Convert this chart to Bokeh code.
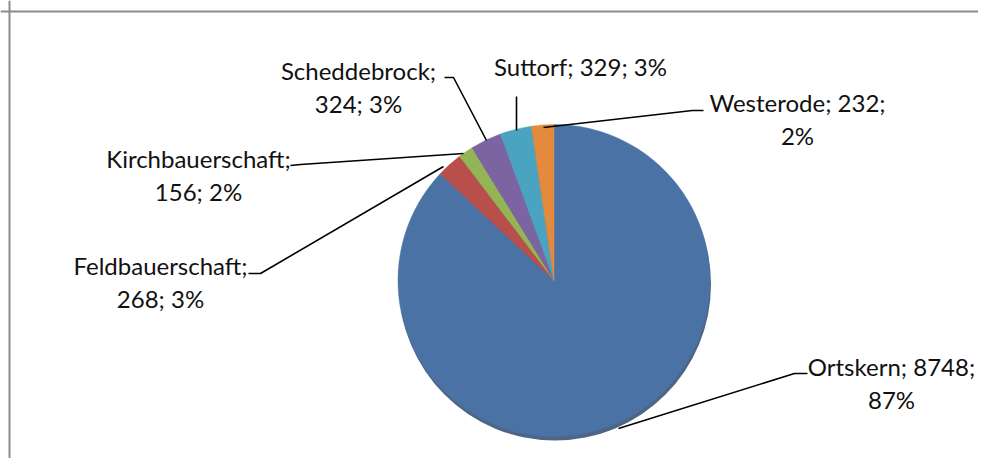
import numpy as np
from bokeh.plotting import figure
from bokeh.models import Range1d, Span, ColumnDataSource
from bokeh.core.properties import value
from bokeh.embed import file_html
from bokeh.resources import INLINE

# ---- data ----
categories = ["Ortskern", "Feldbauerschaft", "Kirchbauerschaft", "Scheddebrock", "Suttorf", "Westerode"]
counts = [8748, 268, 156, 324, 329, 232]
colors = ["#4a72a5", "#b94f4b", "#93b556", "#7c63a1", "#4aa4bf", "#e58a3d"]

W, H = 978, 458
def X(px):
    return px
def Y(py):
    return H - py

total = float(sum(counts))
frac = np.array(counts) / total
cum = np.concatenate([[0], np.cumsum(frac)])
start = np.pi / 2 - cum[:-1] * 2 * np.pi
end = np.pi / 2 - cum[1:] * 2 * np.pi
pct = [f"{int(round(f * 100))}%" for f in frac]

p = figure(width=W, height=H, output_backend="svg", toolbar_location=None,
           x_range=Range1d(0, W), y_range=Range1d(0, H), min_border=0)
p.axis.visible = False
p.grid.visible = False
p.outline_line_color = None
p.background_fill_color = "white"
p.border_fill_color = "white"

# chart border (left & top visible in window)
p.add_layout(Span(location=X(9), dimension="height", line_color="#8c8c8c", line_width=2))
p.add_layout(Span(location=Y(11), dimension="width", line_color="#8c8c8c", line_width=2))

cx, cy, r = X(553.5), Y(280), 156
# shadow rim
p.circle(x=[cx + 1], y=[cy - 4], radius=r, fill_color="#2f4a70", line_color=None, fill_alpha=0.85)

src = ColumnDataSource(dict(start=start, end=end, color=colors, cat=categories))
p.wedge(x=cx, y=cy, radius=r, start_angle="start", end_angle="end", direction="clock",
        fill_color="color", line_color="color", line_width=0.5, source=src)

# ---- labels (layout) ----
lines_txt = {
    "Ortskern": [f"Ortskern; {counts[0]};", pct[0]],
    "Feldbauerschaft": ["Feldbauerschaft;", f"{counts[1]}; {pct[1]}"],
    "Kirchbauerschaft": ["Kirchbauerschaft;", f"{counts[2]}; {pct[2]}"],
    "Scheddebrock": ["Scheddebrock;", f"{counts[3]}; {pct[3]}"],
    "Suttorf": [f"Suttorf; {counts[4]}; {pct[4]}"],
    "Westerode": [f"Westerode; {counts[5]};", pct[5]],
}
label_pos = {
    "Ortskern": (891, 366),
    "Feldbauerschaft": (160, 265),
    "Kirchbauerschaft": (198, 158),
    "Scheddebrock": (358, 70),
    "Suttorf": (580, 66),
    "Westerode": (797, 102),
}
leaders = {
    "Ortskern": [(618, 428), (794, 373), (807, 373)],
    "Feldbauerschaft": [(443, 166), (260, 273), (248, 273)],
    "Kirchbauerschaft": [(463, 153), (300, 164), (290, 165)],
    "Scheddebrock": [(486, 140), (453, 77), (444, 77)],
    "Suttorf": [(516, 130), (516, 96)],
    "Westerode": [(543, 127), (692, 110), (703, 110)],
}
line_gap = 33
tx, ty, tt = [], [], []
for cat in categories:
    x0, y0 = label_pos[cat]
    for i, t in enumerate(lines_txt[cat]):
        tx.append(X(x0)); ty.append(Y(y0 + i * line_gap)); tt.append(t)
p.text(x=tx, y=ty, text=tt, text_font=value("Lato"), text_font_size="24px",
       text_color="#111111", text_align="center", text_baseline="middle")

for cat in categories:
    pts = leaders[cat]
    p.line(x=[X(a) for a, b in pts], y=[Y(b) for a, b in pts], line_color="#000000", line_width=1.6)

open("out.html", "w").write(file_html(p, INLINE))
